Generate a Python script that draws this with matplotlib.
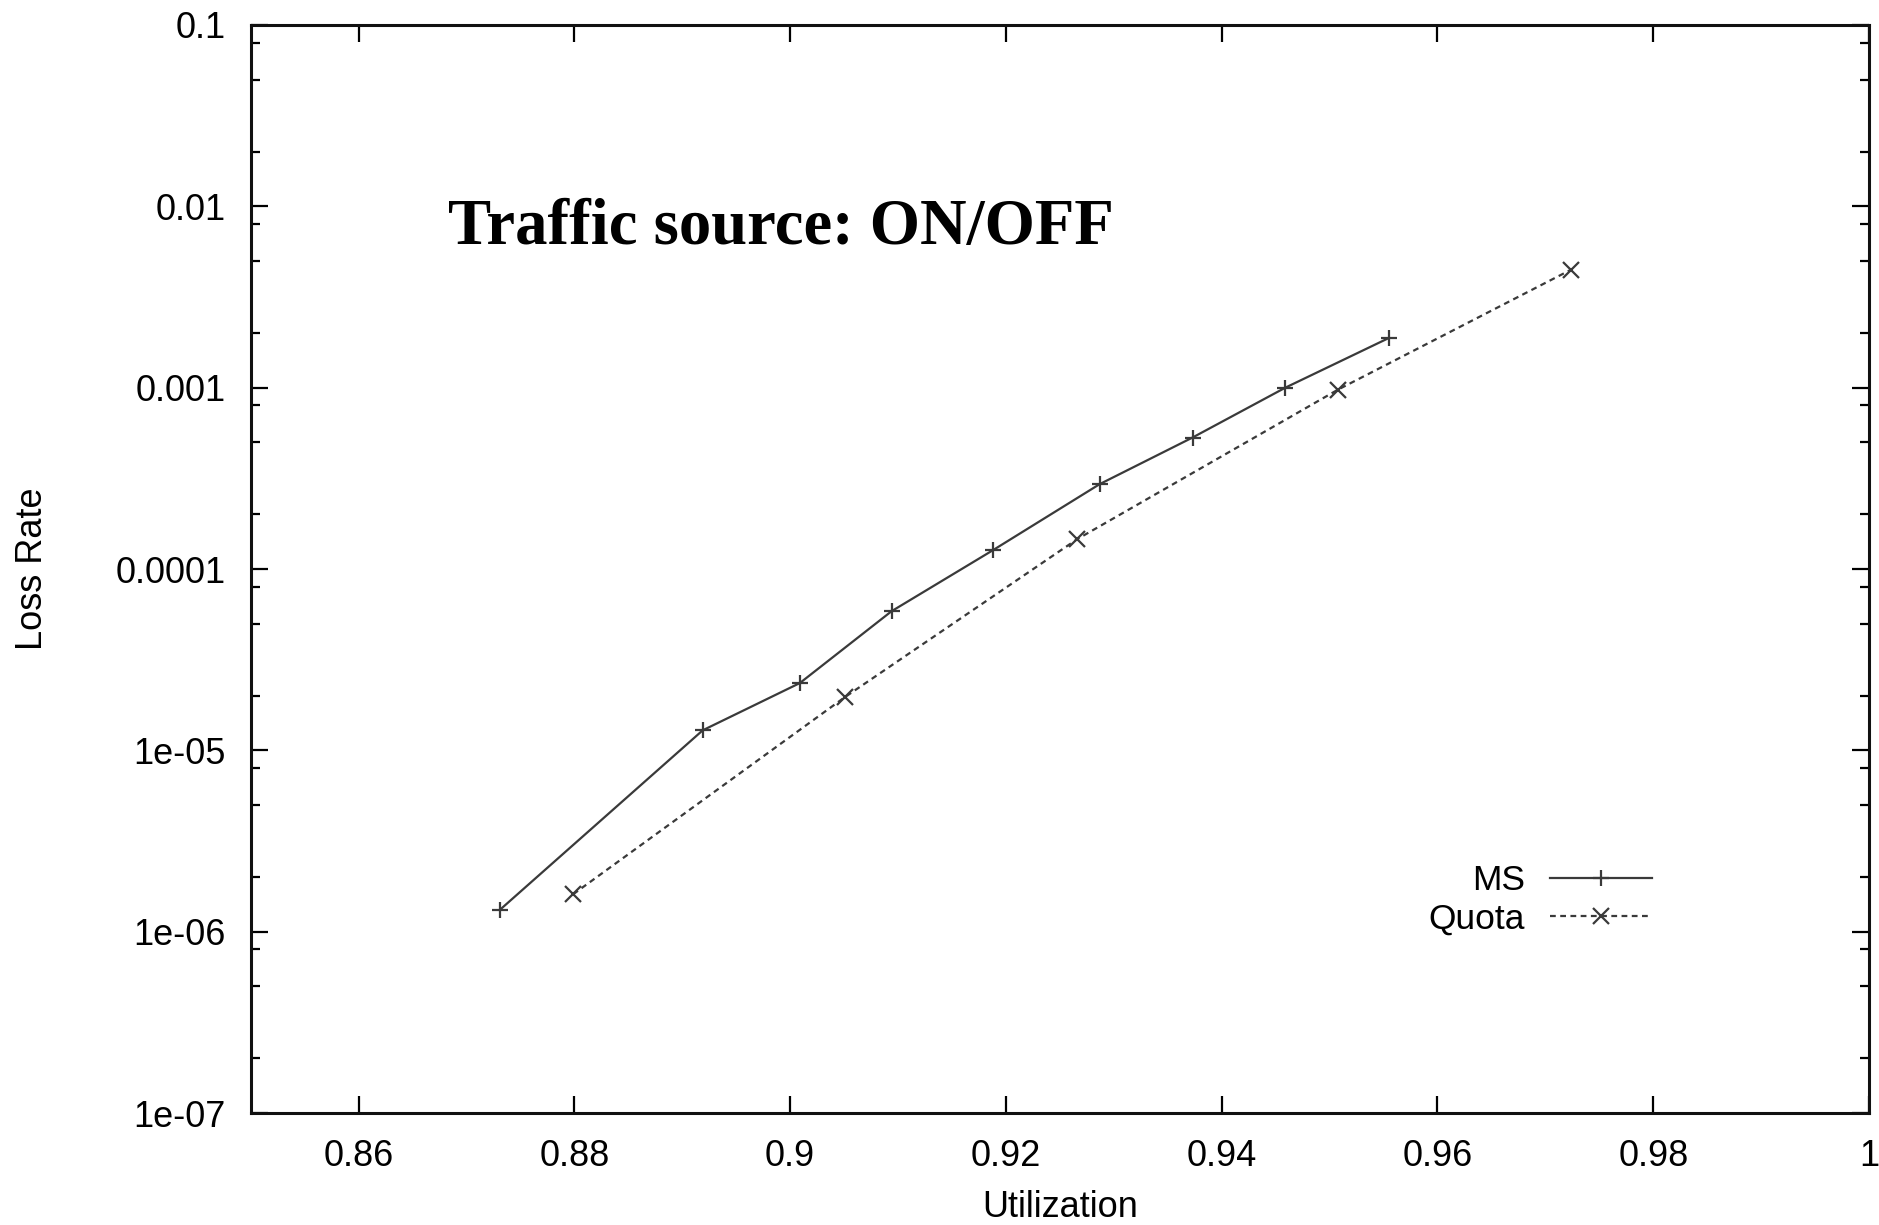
import matplotlib
matplotlib.use("Agg")
import matplotlib.pyplot as plt
from matplotlib.ticker import FixedLocator, FixedFormatter, LogLocator, NullFormatter

# loss rate vs. utilization, ON/OFF traffic
ms_util = [0.8731, 0.8919, 0.9009, 0.9094, 0.9188, 0.9287, 0.9373, 0.9459, 0.9555]
ms_loss = [1.32e-6, 1.29e-5, 2.35e-5, 5.85e-5, 1.27e-4, 2.94e-4, 5.31e-4, 1.0e-3, 1.88e-3]

quota_util = [0.8799, 0.9051, 0.9266, 0.9508, 0.9724]
quota_loss = [1.61e-6, 1.97e-5, 1.46e-4, 9.77e-4, 4.48e-3]

x_ticks = [0.86, 0.88, 0.90, 0.92, 0.94, 0.96, 0.98, 1.0]
x_tick_labels = ["0.86", "0.88", "0.9", "0.92", "0.94", "0.96", "0.98", "1"]
y_ticks = [1e-7, 1e-6, 1e-5, 1e-4, 1e-3, 1e-2, 1e-1]
y_tick_labels = ["1e-07", "1e-06", "1e-05", "0.0001", "0.001", "0.01", "0.1"]

sans = ["Liberation Sans", "DejaVu Sans"]
line_color = "#3a3a3a"

fig = plt.figure(figsize=(18.79, 12.25), dpi=100)
ax = fig.add_axes([0.1334, 0.0914, 0.8613, 0.8882])

ax.plot(ms_util, ms_loss, color=line_color, lw=1.6, ls="-",
        marker="+", ms=11, mew=1.6, label="MS")
ax.plot(quota_util, quota_loss, color=line_color, lw=1.6, ls=(0, (2.6, 2.0)),
        marker="x", ms=11, mew=1.6, label="Quota")

ax.set_yscale("log")
ax.set_xlim(0.85, 1.0)
ax.set_ylim(1e-7, 0.1)

ax.xaxis.set_major_locator(FixedLocator(x_ticks))
ax.xaxis.set_major_formatter(FixedFormatter(x_tick_labels))
ax.yaxis.set_major_locator(FixedLocator(y_ticks))
ax.yaxis.set_major_formatter(FixedFormatter(y_tick_labels))
ax.yaxis.set_minor_locator(LogLocator(base=10, subs=(2.0, 5.0, 8.0)))
ax.yaxis.set_minor_formatter(NullFormatter())

ax.tick_params(which="both", direction="in", top=True, right=True, color="black")
ax.tick_params(which="major", length=12.5, width=1.6, labelsize=26, pad=19)
ax.tick_params(axis="y", which="major", pad=18)
ax.tick_params(which="minor", length=6.5, width=1.6)
for lbl in ax.get_xticklabels() + ax.get_yticklabels():
    lbl.set_family(sans)

for spine in ax.spines.values():
    spine.set_linewidth(2.2)
    spine.set_color("#111111")

ax.set_xlabel("Utilization", fontsize=26, family=sans, labelpad=11)
ax.set_ylabel("Loss Rate", fontsize=26, family=sans, labelpad=47)

leg = ax.legend(loc="upper right", bbox_to_anchor=(0.877, 0.245), frameon=False,
                markerfirst=False, handlelength=2.9, handletextpad=0.7,
                labelspacing=0.15, borderpad=0,
                prop={"family": sans, "size": 25.5})

fig.text(0.2384, 0.8005, "Traffic source: ON/OFF", fontsize=46.5, fontweight="bold",
         family=["Liberation Serif", "DejaVu Serif"], ha="left", va="baseline")

fig.savefig("out.png", dpi=100)
